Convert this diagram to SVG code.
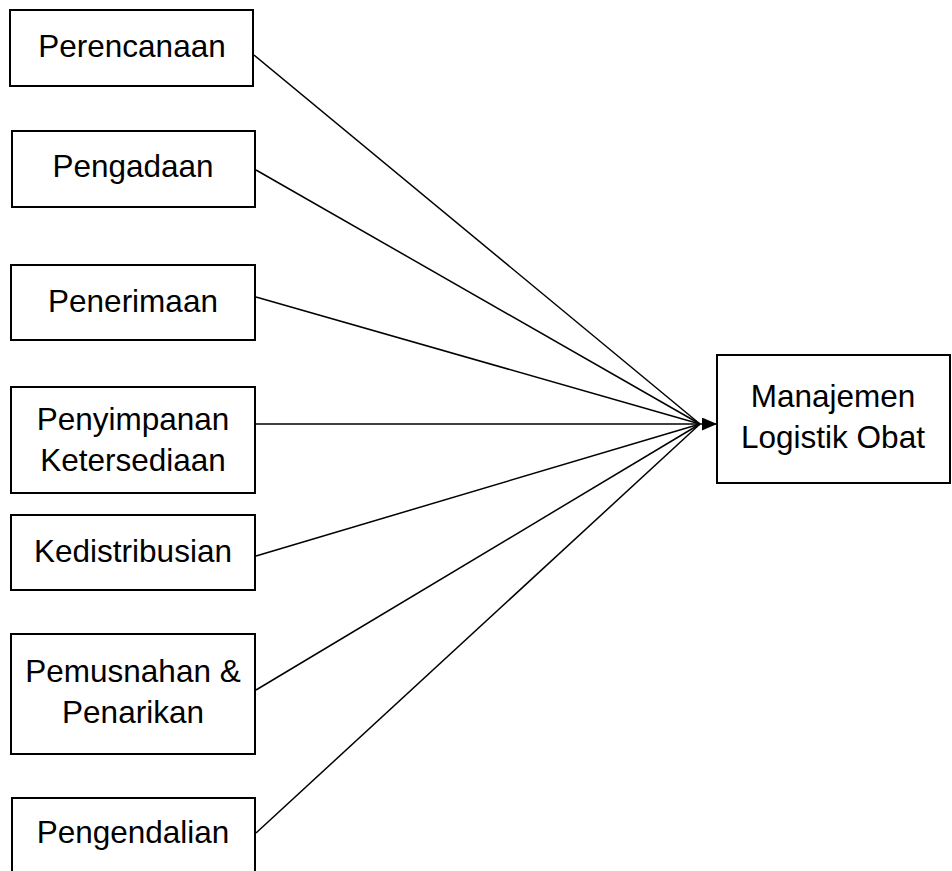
<svg xmlns="http://www.w3.org/2000/svg" width="952" height="871" viewBox="0 0 952 871">
<style>
.box{fill:#fff;stroke:#000;stroke-width:2}
.t{font-family:"Liberation Sans",Arial,sans-serif;font-size:31.5px;fill:#000;text-anchor:middle}
.c{stroke:#000;stroke-width:1.5;fill:none}
</style>
<defs>
<marker id="arr" markerWidth="16" markerHeight="14" refX="15" refY="6.5" orient="auto" markerUnits="userSpaceOnUse">
<path d="M0,0 L15,6.5 L0,13 Z" fill="#000"/>
</marker>
</defs>
<rect width="952" height="871" fill="#fff"/>
<g id="connectors">
<line class="c" x1="254" y1="55" x2="700" y2="424"/>
<line class="c" x1="256" y1="170" x2="700" y2="424"/>
<line class="c" x1="256" y1="297" x2="700" y2="424"/>
<line class="c" x1="256" y1="424" x2="700" y2="424"/>
<line class="c" x1="256" y1="556" x2="700" y2="424"/>
<line class="c" x1="256" y1="690" x2="700" y2="424"/>
<line class="c" x1="256" y1="833" x2="700" y2="424"/>
<line class="c" x1="700" y1="424" x2="717" y2="424" marker-end="url(#arr)"/>
</g>
<g id="perencanaan">
<rect class="box" x="10" y="10" width="243" height="76"/>
<text class="t" x="132" y="57">Perencanaan</text>
</g>
<g id="pengadaan">
<rect class="box" x="12" y="131" width="243" height="76"/>
<text class="t" x="133" y="177">Pengadaan</text>
</g>
<g id="penerimaan">
<rect class="box" x="11" y="265" width="244" height="75"/>
<text class="t" x="133" y="312">Penerimaan</text>
</g>
<g id="penyimpanan">
<rect class="box" x="11" y="387" width="244" height="106"/>
<text class="t" x="133" y="430">Penyimpanan</text>
<text class="t" x="133" y="471">Ketersediaan</text>
</g>
<g id="kedistribusian">
<rect class="box" x="11" y="515" width="244" height="75"/>
<text class="t" x="133" y="562">Kedistribusian</text>
</g>
<g id="pemusnahan">
<rect class="box" x="11" y="634" width="244" height="120"/>
<text class="t" x="133" y="682">Pemusnahan &amp;</text>
<text class="t" x="133" y="723">Penarikan</text>
</g>
<g id="pengendalian">
<rect class="box" x="12" y="798" width="243" height="90"/>
<text class="t" x="133" y="843">Pengendalian</text>
</g>
<g id="manajemen">
<rect class="box" x="717" y="355" width="233" height="128"/>
<text class="t" x="833" y="407">Manajemen</text>
<text class="t" x="833" y="448">Logistik Obat</text>
</g>
</svg>
